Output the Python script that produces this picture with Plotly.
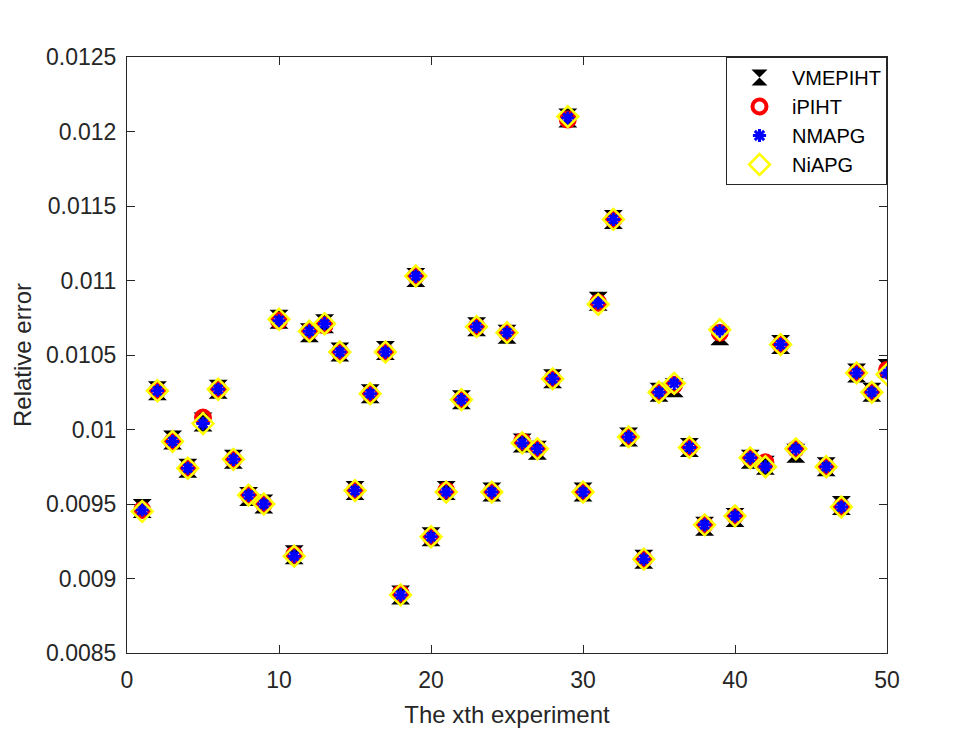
import plotly.graph_objects as go

# experiment index (x = 45 has no visible point in the figure)
experiments = [1, 2, 3, 4, 5, 6, 7, 8, 9, 10,
               11, 12, 13, 14, 15, 16, 17, 18, 19, 20,
               21, 22, 23, 24, 25, 26, 27, 28, 29, 30,
               31, 32, 33, 34, 35, 36, 37, 38, 39, 40,
               41, 42, 43, 44, 46, 47, 48, 49, 50]

vmepiht = [0.00947, 0.01026, 0.00993, 0.00974, 0.01005, 0.01027, 0.00980, 0.00955, 0.00950, 0.01074,
           0.00916, 0.01065, 0.01071, 0.01052, 0.00959, 0.01024, 0.01053, 0.00889, 0.01102, 0.00928,
           0.00959, 0.01020, 0.01069, 0.00958, 0.01064, 0.00991, 0.00986, 0.01034, 0.01209, 0.00958,
           0.01086, 0.01141, 0.00995, 0.00913, 0.01025, 0.01028, 0.00988, 0.00935, 0.01063, 0.00941,
           0.00980, 0.00976, 0.01057, 0.00984, 0.00975, 0.00949, 0.01038, 0.01025, 0.01041]

ipiht = [0.00946, 0.01026, 0.00992, 0.00974, 0.01008, 0.01027, 0.00980, 0.00956, 0.00950, 0.01073,
         0.00916, 0.01066, 0.01070, 0.01052, 0.00959, 0.01024, 0.01052, 0.00890, 0.01103, 0.00928,
         0.00959, 0.01020, 0.01069, 0.00958, 0.01065, 0.00992, 0.00987, 0.01034, 0.01208, 0.00958,
         0.01085, 0.01141, 0.00995, 0.00913, 0.01025, 0.01030, 0.00988, 0.00936, 0.01065, 0.00942,
         0.00981, 0.00978, 0.01057, 0.00987, 0.00975, 0.00948, 0.01038, 0.01025, 0.01040]

nmapg = [0.00946, 0.01026, 0.00992, 0.00974, 0.01004, 0.01027, 0.00980, 0.00956, 0.00950, 0.01073,
         0.00915, 0.01066, 0.01071, 0.01052, 0.00959, 0.01024, 0.01052, 0.00889, 0.01103, 0.00928,
         0.00958, 0.01020, 0.01069, 0.00958, 0.01065, 0.00991, 0.00987, 0.01034, 0.01209, 0.00958,
         0.01085, 0.01141, 0.00995, 0.00913, 0.01025, 0.01031, 0.00988, 0.00936, 0.01066, 0.00942,
         0.00981, 0.00975, 0.01057, 0.00987, 0.00975, 0.00948, 0.01038, 0.01025, 0.01038]

niapg = [0.00945, 0.01026, 0.00992, 0.00974, 0.01004, 0.01027, 0.00980, 0.00956, 0.00950, 0.01074,
         0.00915, 0.01066, 0.01071, 0.01052, 0.00959, 0.01024, 0.01052, 0.00889, 0.01103, 0.00928,
         0.00958, 0.01020, 0.01069, 0.00958, 0.01065, 0.00991, 0.00987, 0.01034, 0.01210, 0.00958,
         0.01084, 0.01141, 0.00995, 0.00913, 0.01025, 0.01031, 0.00988, 0.00936, 0.01067, 0.00942,
         0.00981, 0.00975, 0.01057, 0.00987, 0.00975, 0.00948, 0.01038, 0.01025, 0.01037]

font = "Liberation Sans, Arial, sans-serif"
txt = "#262626"

fig = go.Figure()
fig.add_trace(go.Scatter(x=experiments, y=vmepiht, mode="markers", name="VMEPIHT",
                         marker=dict(symbol="hourglass", size=19, color="black",
                                     line=dict(width=0))))
fig.add_trace(go.Scatter(x=experiments, y=ipiht, mode="markers", name="iPIHT",
                         marker=dict(symbol="circle-open", size=14, color="red",
                                     line=dict(width=4, color="red"))))
fig.add_trace(go.Scatter(x=experiments, y=nmapg, mode="markers", name="NMAPG",
                         marker=dict(symbol="asterisk-open", size=11, color="blue",
                                     line=dict(width=3, color="blue"))))
fig.add_trace(go.Scatter(x=experiments, y=niapg, mode="markers", name="NiAPG",
                         marker=dict(symbol="diamond-open", size=16, color="#FFFF00",
                                     line=dict(width=2.5, color="#FFFF00"))))

axis_style = dict(showline=True, linecolor="#262626", linewidth=1, mirror="ticks",
                  ticks="inside", ticklen=8, tickcolor="#262626", showgrid=False,
                  zeroline=False, tickfont=dict(family=font, size=23, color=txt))

fig.update_layout(
    width=980, height=735,
    paper_bgcolor="white", plot_bgcolor="white",
    margin=dict(l=119, r=101, t=49, b=90),
    font=dict(family=font, size=21, color=txt),
    xaxis=dict(range=[0, 50], dtick=10, ticklabelstandoff=6,
               title=dict(text="The xth experiment", font=dict(family=font, size=24, color=txt),
                          standoff=14),
               **axis_style),
    yaxis=dict(range=[0.0085, 0.0125], dtick=0.0005, tickformat="~g", ticklabelstandoff=5,
               title=dict(text="Relative error", font=dict(family=font, size=24, color=txt),
                          standoff=7),
               **axis_style),
    legend=dict(x=1, y=1, xanchor="right", yanchor="top",
                bgcolor="white", bordercolor="#262626", borderwidth=1,
                font=dict(family=font, size=20, color="black"),
                itemwidth=55, tracegroupgap=0),
    showlegend=True,
)

fig.write_html("out.html")
